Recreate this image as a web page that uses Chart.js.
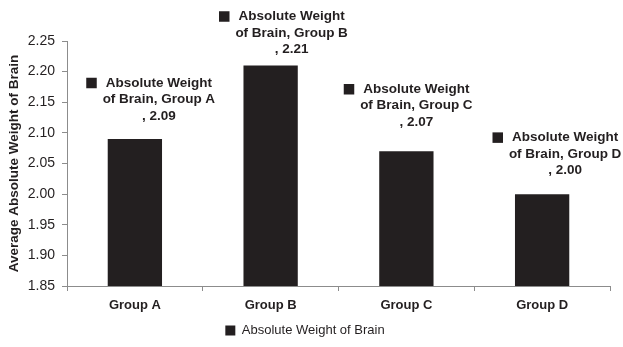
<!DOCTYPE html>
<html>
<head>
<meta charset="utf-8">
<script src="https://cdn.jsdelivr.net/npm/chart.js@4/dist/chart.umd.min.js"></script>
<style>
  html, body { margin: 0; padding: 0; background: #fff; }
  #wrap { width: 623px; height: 347px; }
</style>
</head>
<body>
<div id="wrap"><canvas id="c" width="623" height="347"></canvas></div>
<script>
const categories = ['Group A', 'Group B', 'Group C', 'Group D'];
const seriesName = 'Absolute Weight of Brain';
const values = [2.09, 2.21, 2.07, 2.00];
const yTickMin = 1.85;
const yTickMax = 2.25;
const yTickStep = 0.05;
const yTitle = 'Average Absolute Weight of Brain';

const INK = '#231f20';
const AXIS = '#8c8c8c';

// label placement (manually placed labels, as in the reference)
const labelShiftX = [24, 21, 10, 23];
const labelGapY = [23, 16, 29, 23.5];

const dataLabelPlugin = {
  id: 'dataLabels',
  afterDatasetsDraw(chart) {
    const ctx = chart.ctx;
    const meta = chart.getDatasetMeta(0);
    ctx.save();
    ctx.font = 'bold 13.5px "Liberation Sans", Arial, sans-serif';
    ctx.fillStyle = INK;
    ctx.textAlign = 'center';
    ctx.textBaseline = 'middle';
    const words = seriesName.split(' ');
    const first = words.slice(0, 2).join(' ');
    const rest = words.slice(2).join(' ');
    meta.data.forEach((bar, i) => {
      const cx = bar.x + labelShiftX[i];
      const y3 = bar.y - labelGapY[i];
      const y2 = y3 - 16.5;
      const y1 = y2 - 16.5;
      const lines = [first, rest + ', ' + categories[i], ', ' + values[i].toFixed(2)];
      ctx.fillText(lines[0], cx, y1);
      ctx.fillText(lines[1], cx, y2);
      ctx.fillText(lines[2], cx, y3);
      const w = ctx.measureText(lines[0]).width;
      const sq = 10.5;
      ctx.fillRect(cx - w / 2 - 9 - sq, y1 - sq / 2, sq, sq);
    });
    ctx.restore();
  }
};

new Chart(document.getElementById('c'), {
  type: 'bar',
  data: {
    labels: categories,
    datasets: [{
      label: seriesName,
      data: values,
      backgroundColor: INK,
      borderWidth: 0,
      categoryPercentage: 1.0,
      barPercentage: 0.4
    }]
  },
  options: {
    responsive: false,
    animation: false,
    devicePixelRatio: 1,
    layout: { padding: { top: 41, right: 13, left: 0, bottom: 0 } },
    plugins: {
      tooltip: { enabled: false },
      legend: {
        display: true,
        position: 'bottom',
        labels: {
          boxWidth: 10,
          boxHeight: 10,
          color: INK,
          padding: 10,
          font: { family: '"Liberation Sans", Arial, sans-serif', size: 13 }
        }
      }
    },
    scales: {
      x: {
        grid: {
          display: true,
          drawOnChartArea: false,
          drawTicks: true,
          tickLength: 5,
          tickColor: AXIS,
          offset: true
        },
        border: { display: true, color: AXIS, width: 1 },
        ticks: {
          color: INK,
          padding: 7,
          font: { family: '"Liberation Sans", Arial, sans-serif', size: 13, weight: 'bold' }
        },
        afterFit(s) { s.height = 28; }
      },
      y: {
        min: yTickMin,
        max: yTickMax,
        grid: {
          display: true,
          drawOnChartArea: false,
          drawTicks: true,
          tickLength: 5,
          tickColor: AXIS
        },
        border: { display: true, color: AXIS, width: 1 },
        ticks: {
          stepSize: yTickStep,
          color: INK,
          padding: 7,
          font: { family: '"Liberation Sans", Arial, sans-serif', size: 14 },
          callback: (v) => Number(v).toFixed(2)
        },
        title: {
          display: true,
          text: yTitle,
          color: INK,
          padding: { top: 6, bottom: 0 },
          font: { family: '"Liberation Sans", Arial, sans-serif', size: 13.5, weight: 'bold' }
        },
        afterFit(s) { s.width = 67; }
      }
    }
  },
  plugins: [dataLabelPlugin]
});
</script>
</body>
</html>
